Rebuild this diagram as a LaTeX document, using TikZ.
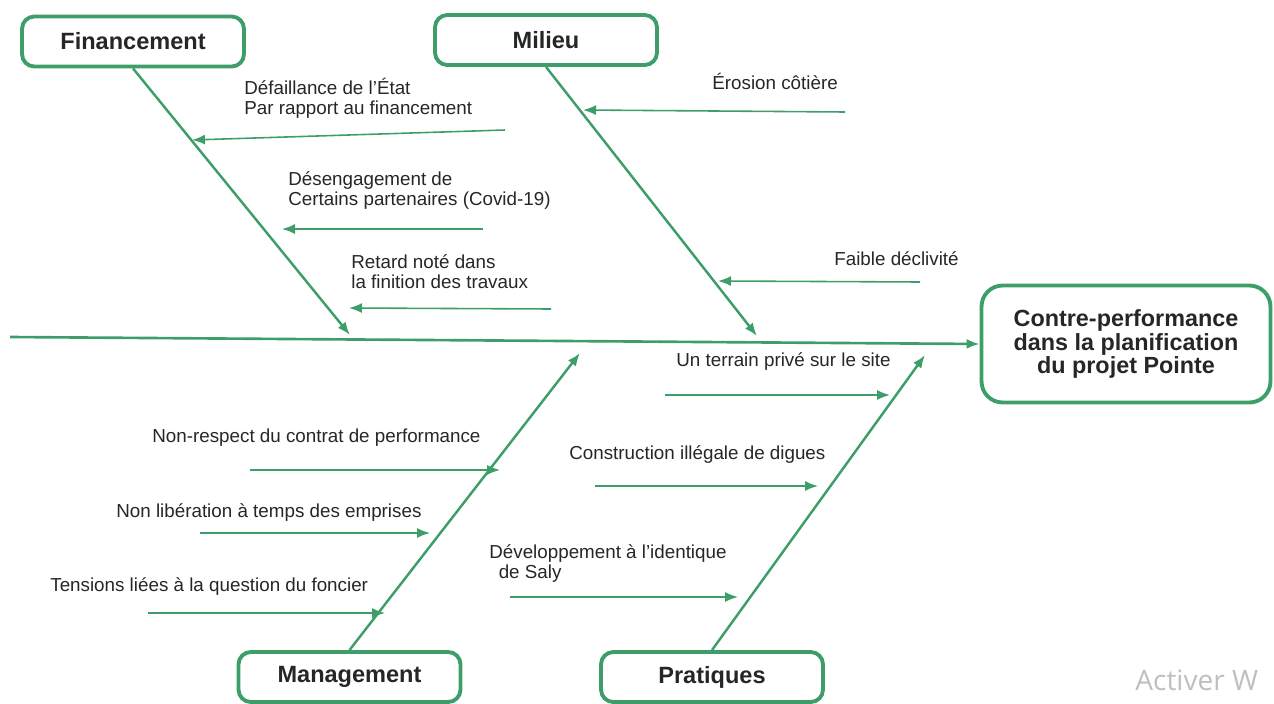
\documentclass[tikz,border=0pt]{standalone}
\usepackage{fontspec}
\setmainfont{Liberation Sans}
\newfontfamily\wmfont{Open Sans}
\usepackage{tikz}
\usetikzlibrary{arrows.meta,positioning,calc}
\definecolor{fishgreen}{RGB}{61,158,106}
\tikzset{
  >={Latex[length=2.6mm,width=2mm]},
  katbox/.style={rectangle,rounded corners=7pt, draw=fishgreen, line width=2.2pt,
                 minimum width=4.44cm, minimum height=1.0cm, text=black!85,
                 font=\fontsize{13.4}{14}\selectfont\bfseries},
  effbox/.style={rectangle,rounded corners=12pt, draw=fishgreen, line width=2.2pt,
                 minimum width=5.78cm, minimum height=2.34cm, align=center, text=black!85,
                 font=\fontsize{13.3}{13.2}\selectfont\bfseries},
  spine/.style={draw=fishgreen, line width=1.5pt},
  bone/.style={draw=fishgreen, line width=1.4pt},
  cause/.style={draw=fishgreen, line width=0.9pt},
  causetext/.style={inner sep=0pt, align=left, anchor=west, text=black!85,
                    font=\fontsize{10.7}{11.4}\selectfont}
}

\begin{document}
\begin{tikzpicture}[x=0.02cm,y=-0.02cm]
\useasboundingbox (0,0) rectangle (1274,703);
\clip (0,0) rectangle (1274,703);

% categories and effect
\node[katbox] (fin) at (133,41.5) {Financement};
\node[katbox] (mil) at (546,40) {Milieu};
\node[katbox] (man) at (349.5,677) {Management};
\node[katbox] (pra) at (712,677) {Pratiques};
\node[effbox] (eff) at (1126,344) {Contre-performance\\dans la planification\\du projet Pointe};

% spine and bones
\coordinate (tail) at (10,337);
\draw[spine,->] (tail) -- (eff.west);
\coordinate (finTip) at (350,335);
\coordinate (milTip) at (757,336);
\coordinate (manTip) at (580,353);
\coordinate (praTip) at (925,355);
\draw[bone,->] (fin.south) -- (finTip);
\draw[bone,->] (mil.south) -- (milTip);
\draw[bone,->] (man.north) -- (manTip);
\draw[bone,->] (pra.north) -- (praTip);

% Financement
\node[causetext] (f1) at (244,98) {Défaillance de l’État\\Par rapport au financement};
\coordinate (f1s) at (505,130); \coordinate (f1e) at (192,140);
\draw[cause,->] (f1s) -- (f1e);
\node[causetext] (f2) at (288,190.5) {Désengagement de\\Certains partenaires (Covid-19)};
\coordinate (f2s) at (483,229); \coordinate (f2e) at (282,229);
\draw[cause,->] (f2s) -- (f2e);
\node[causetext] (f3) at (351,271.5) {Retard noté dans\\la finition des travaux};
\coordinate (f3s) at (551,309); \coordinate (f3e) at (349,308);
\draw[cause,->] (f3s) -- (f3e);

% Milieu
\node[causetext] (m1) at (712,81) {Érosion côtière};
\coordinate (m1s) at (845,112); \coordinate (m1e) at (583,110);
\draw[cause,->] (m1s) -- (m1e);
\node[causetext] (m2) at (834,259) {Faible déclivité};
\coordinate (m2s) at (920,282); \coordinate (m2e) at (718,281);
\draw[cause,->] (m2s) -- (m2e);

% Management
\node[causetext] (g1) at (152,438) {Non-respect du contrat de performance};
\coordinate (g1s) at (250,470); \coordinate (g1e) at (500,470);
\draw[cause,->] (g1s) -- (g1e);
\node[causetext] (g2) at (116,513) {Non libération à temps des emprises};
\coordinate (g2s) at (200,533); \coordinate (g2e) at (430,533);
\draw[cause,->] (g2s) -- (g2e);
\node[causetext] (g3) at (50,587) {Tensions liées à la question du foncier};
\coordinate (g3s) at (148,613); \coordinate (g3e) at (385,613);
\draw[cause,->] (g3s) -- (g3e);

% Pratiques
\node[causetext] (p1) at (676,362) {Un terrain privé sur le site};
\coordinate (p1s) at (665,395); \coordinate (p1e) at (890,395);
\draw[cause,->] (p1s) -- (p1e);
\node[causetext] (p2) at (569,455) {Construction illégale de digues};
\coordinate (p2s) at (595,486); \coordinate (p2e) at (818,486);
\draw[cause,->] (p2s) -- (p2e);
\node[causetext] (p3) at (489,564) {Développement à l’identique\\\hspace*{0.5em}de Saly};
\coordinate (p3s) at (510,597); \coordinate (p3e) at (738,597);
\draw[cause,->] (p3s) -- (p3e);

\node[anchor=base west, inner sep=0pt, text=black!25, font=\wmfont\fontsize{16}{16}\selectfont] (wm) at (1135,690) {Activer W};
\end{tikzpicture}
\end{document}
